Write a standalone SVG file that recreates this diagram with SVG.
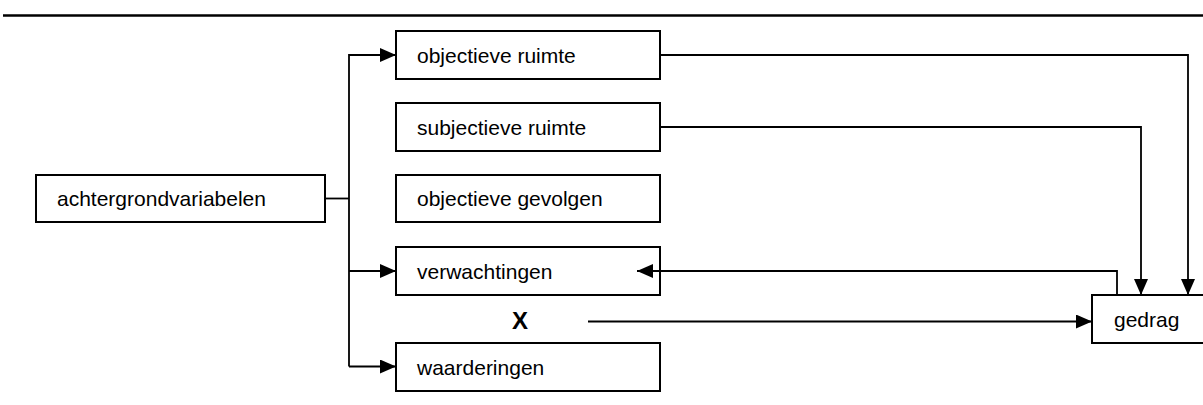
<svg xmlns="http://www.w3.org/2000/svg" width="1203" height="405" viewBox="0 0 1203 405">
  <style>
    .box { fill: #ffffff; stroke: #000000; stroke-width: 2; }
    .label { font-family: "Liberation Sans", Arial, sans-serif; font-size: 21px; fill: #000000; }
    .mark { font-family: "Liberation Sans", Arial, sans-serif; font-size: 24px; font-weight: bold; fill: #000000; }
    .wire { fill: none; stroke: #000000; stroke-width: 1.8; }
  </style>
  <defs>
    <marker id="arrow" markerUnits="userSpaceOnUse" markerWidth="17" markerHeight="15" refX="16" refY="7" orient="auto">
      <path d="M0,0 L16,7 L0,14 Z" fill="#000000"/>
    </marker>
  </defs>

  <rect width="1203" height="405" fill="#ffffff"/>

  <!-- header rule -->
  <line x1="3" y1="15.5" x2="1203" y2="15.5" stroke="#000000" stroke-width="2.5"/>

  <g id="achtergrondvariabelen">
    <rect class="box" x="36" y="175" width="289" height="47"/>
    <text class="label" x="57" y="206">achtergrondvariabelen</text>
  </g>

  <g id="objectieve-ruimte">
    <rect class="box" x="396" y="31" width="264" height="48"/>
    <text class="label" x="417" y="63">objectieve ruimte</text>
  </g>

  <g id="subjectieve-ruimte">
    <rect class="box" x="396" y="103" width="264" height="48"/>
    <text class="label" x="417" y="135">subjectieve ruimte</text>
  </g>

  <g id="objectieve-gevolgen">
    <rect class="box" x="396" y="175" width="264" height="47"/>
    <text class="label" x="417" y="206">objectieve gevolgen</text>
  </g>

  <g id="verwachtingen">
    <rect class="box" x="396" y="247" width="264" height="48"/>
    <text class="label" x="417" y="279">verwachtingen</text>
  </g>

  <g id="x-factor">
    <text class="mark" x="520" y="329" text-anchor="middle">X</text>
  </g>

  <g id="waarderingen">
    <rect class="box" x="396" y="343" width="264" height="48"/>
    <text class="label" x="417" y="375">waarderingen</text>
  </g>

  <g id="gedrag">
    <rect class="box" x="1092" y="295" width="130" height="48"/>
    <text class="label" x="1114" y="327">gedrag</text>
  </g>

  <!-- connectors drawn last so the feedback arrow sits over the verwachtingen box -->
  <g id="connectors">
    <path class="wire" d="M325,198.5 H349"/>
    <path class="wire" d="M349,366.5 V55 H396" marker-end="url(#arrow)"/>
    <path class="wire" d="M349,271 H396" marker-end="url(#arrow)"/>
    <path class="wire" d="M349,366.5 H396" marker-end="url(#arrow)"/>
    <path class="wire" d="M661,55 H1188 V295" marker-end="url(#arrow)"/>
    <path class="wire" d="M661,127 H1141 V295" marker-end="url(#arrow)"/>
    <path class="wire" d="M1117,294 V271 H637" marker-end="url(#arrow)"/>
    <path class="wire" d="M588,321.5 H1092" marker-end="url(#arrow)"/>
  </g>
</svg>
